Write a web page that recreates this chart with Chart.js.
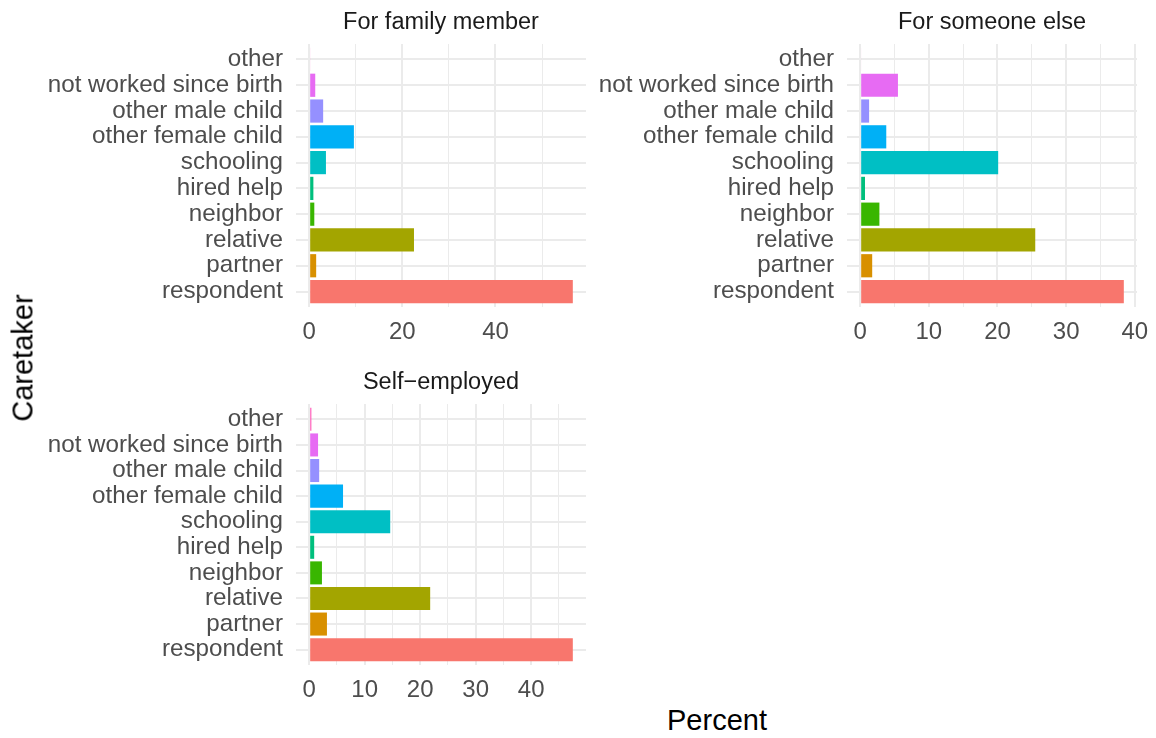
<!DOCTYPE html>
<html>
<head>
<meta charset="utf-8">
<script src="https://cdn.jsdelivr.net/npm/chart.js@4"></script>
<style>
  body { margin: 0; background: #fff; }
  #wrap { position: relative; width: 1156px; height: 738px; font-family: "Liberation Sans", Arial, sans-serif; }
  canvas { position: absolute; }
  .axisTitle { position: absolute; font-size: 29px; color: #000; white-space: nowrap; }
</style>
</head>
<body>
<div id="wrap">
  <canvas id="family" width="600" height="360" style="left:0;top:0"></canvas>
  <canvas id="someone" width="556" height="360" style="left:600px;top:0"></canvas>
  <canvas id="self" width="600" height="358" style="left:0;top:360px"></canvas>
  <div class="axisTitle" id="ytitle" style="left:23px;top:358px;transform:translate(-50%,-50%) rotate(-90deg)">Caretaker</div>
  <div class="axisTitle" id="xtitle" style="left:717px;top:720px;transform:translate(-50%,-50%)">Percent</div>
</div>
<script>
// categories, top to bottom as in the picture
var categories = ['other', 'not worked since birth', 'other male child', 'other female child',
  'schooling', 'hired help', 'neighbor', 'relative', 'partner', 'respondent'];
var barColors = ['#FF62BC', '#E76BF3', '#9590FF', '#00B0F6', '#00BFC4',
  '#00BF7D', '#39B600', '#A3A500', '#D89000', '#F8766D'];

// percent values per panel
var familyMember = [0.2, 1.3, 3.0, 9.6, 3.6, 0.9, 1.1, 22.5, 1.5, 56.6];
var someoneElse = [0.15, 5.5, 1.3, 3.8, 20.1, 0.7, 2.8, 25.5, 1.75, 38.4];
var selfEmployed = [0.4, 1.6, 1.8, 6.1, 14.6, 0.9, 2.3, 21.8, 3.2, 47.5];

// tick labels (major) and minor grid positions
var familyMajor = [0, 20, 40];
var familyMinor = [10, 30, 50];
var someoneMajor = [0, 10, 20, 30, 40];
var someoneMinor = [5, 15, 25, 35];
var selfMajor = [0, 10, 20, 30, 40];
var selfMinor = [5, 15, 25, 35, 45];

var FONT = '"Liberation Sans", Arial, sans-serif';
var GRID = '#EBEBEB';

function makePanel(id, title, values, major, minor, axisWidth, rightPad) {
  var top = Math.max.apply(null, values);
  var allTicks = major.concat(minor).sort(function (a, b) { return a - b; });
  return new Chart(document.getElementById(id).getContext('2d'), {
    type: 'bar',
    data: {
      datasets: [{
        data: values.map(function (v, i) { return { x: v, y: i }; }),
        backgroundColor: barColors,
        borderWidth: 0,
        barPercentage: 0.9,
        categoryPercentage: 1
      }]
    },
    options: {
      indexAxis: 'y',
      responsive: false,
      animation: false,
      layout: { padding: { left: 0, right: rightPad, top: 0, bottom: 0 } },
      plugins: {
        legend: { display: false },
        tooltip: { enabled: false },
        title: {
          display: true,
          text: title,
          fullSize: false,
          color: '#1A1A1A',
          font: { family: FONT, size: 23.5, weight: 'normal' },
          padding: { top: 8.5, bottom: 7.3 }
        }
      },
      scales: {
        x: {
          type: 'linear',
          min: -0.05 * top,
          max: 1.05 * top,
          afterBuildTicks: function (s) {
            s.ticks = allTicks.map(function (v) { return { value: v }; });
          },
          afterFit: function (s) {
            s.height = 53;
            s.paddingLeft = 0;
            s.paddingRight = 0;
          },
          border: { display: false },
          grid: {
            color: GRID,
            drawTicks: false,
            lineWidth: function (c) { return major.indexOf(c.tick.value) >= 0 ? 2 : 1; }
          },
          ticks: {
            autoSkip: false,
            maxRotation: 0,
            padding: 11,
            color: '#4D4D4D',
            font: { family: FONT, size: 24 },
            callback: function (v) { return major.indexOf(v) >= 0 ? String(v) : ''; }
          }
        },
        y: {
          type: 'linear',
          reverse: true,
          offset: false,
          min: -0.6,
          max: categories.length - 0.4,
          afterBuildTicks: function (s) {
            s.ticks = categories.map(function (c, i) { return { value: i }; });
          },
          afterFit: function (s) {
            s.width = axisWidth;
            s.paddingTop = 0;
            s.paddingBottom = 0;
          },
          border: { display: false },
          grid: { color: GRID, drawTicks: false, lineWidth: 2, offset: false },
          ticks: {
            autoSkip: false,
            padding: 13,
            color: '#4D4D4D',
            font: { family: FONT, size: 24.2, lineHeight: 1 },
            callback: function (v) { return categories[v]; }
          }
        }
      }
    }
  });
}

makePanel('family', 'For family member', familyMember, familyMajor, familyMinor, 296, 14);
makePanel('someone', 'For someone else', someoneElse, someoneMajor, someoneMinor, 247, 19);
makePanel('self', 'Self\u2212employed', selfEmployed, selfMajor, selfMinor, 296, 14);
</script>
</body>
</html>
